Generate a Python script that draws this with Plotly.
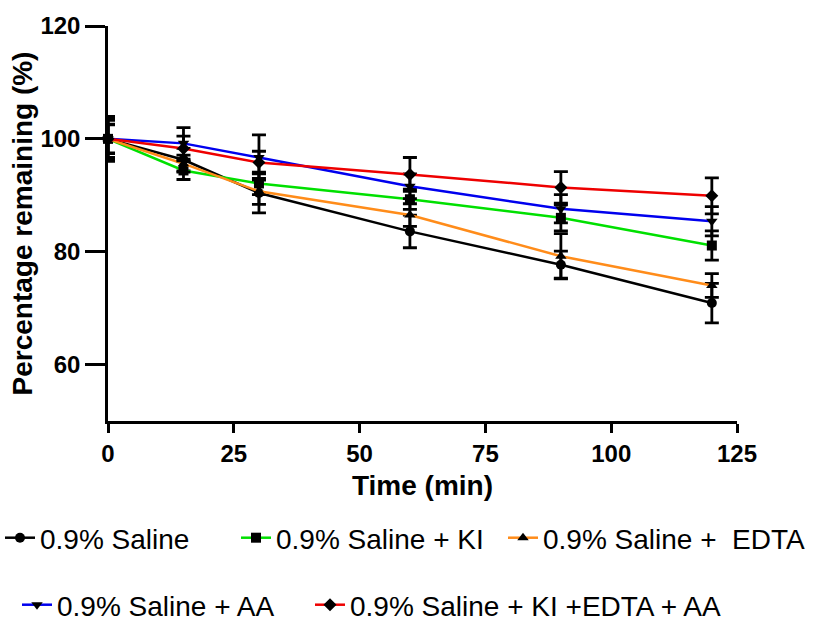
import plotly.graph_objects as go

# Sampling times (min)
times = [0, 15, 30, 60, 90, 120]

# Mean percentage remaining for each formulation
saline = [100, 96.3, 90.4, 83.6, 77.7, 70.9]
saline_ki = [100, 94.4, 92.1, 89.3, 86.0, 81.1]
saline_edta = [100, 95.6, 90.7, 86.5, 79.2, 74.0]
saline_aa = [100, 99.2, 96.7, 91.6, 87.6, 85.4]
saline_ki_edta_aa = [100, 98.3, 95.8, 93.7, 91.4, 89.9]

# Standard deviations
saline_sd = [2.5, 2.0, 3.5, 2.9, 2.4, 3.5]
saline_ki_sd = [3.3, 1.6, 2.0, 1.8, 2.3, 2.6]
saline_edta_sd = [3.7, 1.5, 2.3, 2.0, 4.0, 2.1]
saline_aa_sd = [4.0, 2.8, 4.0, 2.2, 2.5, 2.6]
saline_ki_edta_aa_sd = [2.6, 2.2, 2.0, 3.0, 2.8, 3.2]

series_names = [
    "0.9% Saline",
    "0.9% Saline + KI",
    "0.9% Saline +  EDTA",
    "0.9% Saline + AA",
    "0.9% Saline + KI +EDTA + AA",
]
series_values = [saline, saline_ki, saline_edta, saline_aa, saline_ki_edta_aa]
series_sd = [saline_sd, saline_ki_sd, saline_edta_sd, saline_aa_sd, saline_ki_edta_aa_sd]
line_colors = ["#000000", "#00e000", "#ff8c1a", "#0000ee", "#ee0000"]
symbols = ["circle", "square", "triangle-up", "triangle-down", "diamond"]

FONT = "Arial, Liberation Sans, sans-serif"
W, H = 818, 621

# One legend box per entry: (left px, text-centre px from top)
legend_slots = [(0, 538), (236, 538), (503, 538), (17, 605), (310, 605)]

fig = go.Figure()
legend_layout = {}
for i, (name, vals, sd, col, sym) in enumerate(zip(series_names, series_values, series_sd,
                                                 line_colors, symbols)):
    lg = "legend" if i == 0 else f"legend{i + 1}"
    fig.add_trace(go.Scatter(
        x=times, y=vals, name=name, mode="lines+markers",
        line=dict(color=col, width=2.5),
        marker=dict(symbol=sym, size=10, color="black"),
        error_y=dict(type="data", array=sd, visible=True, color="black",
                     thickness=2.8, width=7),
        cliponaxis=False,
        showlegend=True,
        legend=lg,
    ))
    lx, ly = legend_slots[i]
    legend_layout[lg] = dict(
        orientation="h", xref="container", yref="container",
        x=lx / W, y=1 - ly / H, xanchor="left", yanchor="middle",
        font=dict(family=FONT, size=28, color="black"),
        bgcolor="rgba(0,0,0,0)",
    )

axis_common = dict(
    showline=True, linecolor="black", linewidth=2.5,
    tickwidth=2.5, tickcolor="black", ticks="outside",
    showgrid=False, zeroline=False,
    tickfont=dict(family=FONT, size=24, color="black", weight="bold"),
)

fig.update_layout(
    width=W, height=H,
    showlegend=True,
    margin=dict(l=108, r=81, t=21, b=200),
    paper_bgcolor="white", plot_bgcolor="white",
    xaxis=dict(range=[0, 125], tickvals=[0, 25, 50, 75, 100, 125], ticklen=9,
               title=dict(text="Time (min)", standoff=10,
                          font=dict(family=FONT, size=28, color="black", weight="bold")),
               **axis_common),
    yaxis=dict(range=[50, 120], tickvals=[60, 80, 100, 120], ticklen=20,
               title=dict(text="Percentage remaining (%)", standoff=0,
                          font=dict(family=FONT, size=28, color="black", weight="bold")),
               **axis_common),
    **legend_layout,
)

fig.write_html("out.html")
